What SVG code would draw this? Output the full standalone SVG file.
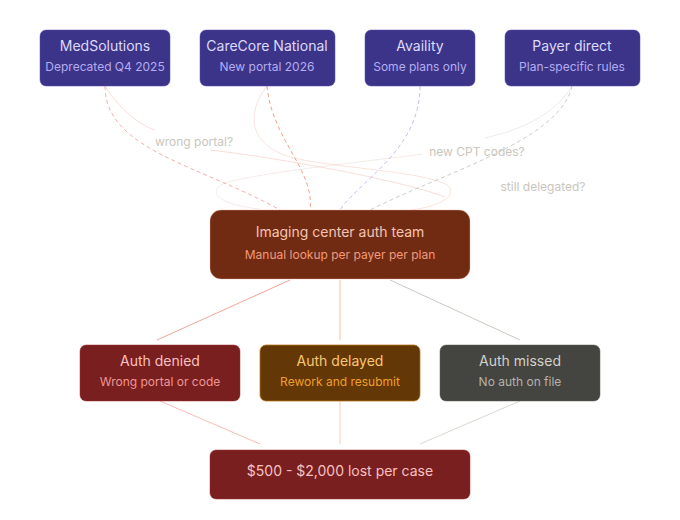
<svg xmlns="http://www.w3.org/2000/svg" width="680" height="520" viewBox="0 0 680 520">
<style>
text{font-family:Inter,"Noto Sans","Liberation Sans",sans-serif;text-anchor:middle;dominant-baseline:central}
.t{font-size:14px}
.s{font-size:12px}
.lbl{font-size:12px;fill:#c9c6bd}
.src rect{fill:#3c3489;stroke:#534ab7;stroke-width:0.5}
.src .t{fill:#dcd9fb}
.src .s{fill:#b3adef}
.e{fill:none;stroke-width:1}
.d{stroke-dasharray:4 3;stroke-opacity:0.85}
.f{stroke-opacity:0.4}
</style>
<rect width="680" height="520" fill="#ffffff"/>
<g id="connectors">
  <path class="e f" d="M105,86 C120,110 140,125 155,130" stroke="#f0a9a0"/>
  <path class="e f" d="M210,150 C280,158 400,180 445,197" stroke="#f0a9a0"/>
  <path class="e f" d="M267,86 C245,115 250,145 290,157 C330,168 440,172 450,188 C455,200 430,208 410,210" stroke="#f2b8a6"/>
  <path class="e f" d="M572,86 C555,115 520,130 485,138" stroke="#d6cecb"/>
  <path class="e f" d="M423,154 C380,160 260,172 225,183 C205,192 220,205 260,209" stroke="#e0ccc6"/>
  <path class="e d" d="M105,86 C105,150 200,165 280,210" stroke="#f0a39a"/>
  <path class="e d" d="M267,86 C272,140 315,170 310,210" stroke="#eb9275"/>
  <path class="e d" d="M420,86 C420,150 360,180 340,210" stroke="#b9b3f2"/>
  <path class="e d" d="M572,86 C560,140 450,170 370,210" stroke="#c6c3bb"/>
  <line class="e" x1="290" y1="280" x2="157" y2="340" stroke="#f2a497"/>
  <line class="e" x1="340" y1="280" x2="340" y2="340" stroke="#f5bfae"/>
  <line class="e" x1="390" y1="280" x2="520" y2="340" stroke="#c9c7bf"/>
  <line class="e" x1="160" y1="401" x2="260" y2="444" stroke="#f5bdb6"/>
  <line class="e" x1="340" y1="401" x2="340" y2="444" stroke="#f7cdbe"/>
  <line class="e" x1="520" y1="401" x2="420" y2="444" stroke="#d9d7d0"/>
  <text class="lbl" x="194" y="141">wrong portal?</text>
  <text class="lbl" x="477" y="151">new CPT codes?</text>
  <text class="lbl" x="543" y="186">still delegated?</text>
</g>
<g id="medsolutions" class="src">
  <rect x="40" y="30" width="130" height="56" rx="6"/>
  <text class="t" x="105" y="45">MedSolutions</text>
  <text class="s" x="105" y="66">Deprecated Q4 2025</text>
</g>
<g id="carecore" class="src">
  <rect x="200" y="30" width="135" height="56" rx="6"/>
  <text class="t" x="267" y="45">CareCore National</text>
  <text class="s" x="267" y="66">New portal 2026</text>
</g>
<g id="availity" class="src">
  <rect x="365" y="30" width="110" height="56" rx="6"/>
  <text class="t" x="420" y="45">Availity</text>
  <text class="s" x="420" y="66">Some plans only</text>
</g>
<g id="payer-direct" class="src">
  <rect x="505" y="30" width="135" height="56" rx="6"/>
  <text class="t" x="572" y="45">Payer direct</text>
  <text class="s" x="572" y="66">Plan-specific rules</text>
</g>
<g id="auth-team">
  <rect x="210" y="210" width="260" height="69" rx="11" fill="#712b13" stroke="#f0b2a0" stroke-opacity="0.5" stroke-width="0.75"/>
  <text class="t" x="340" y="231" fill="#f5c4b3">Imaging center auth team</text>
  <text class="s" x="340" y="254" fill="#f0997b">Manual lookup per payer per plan</text>
</g>
<g id="auth-denied">
  <rect x="80" y="345" width="160" height="56" rx="6" fill="#791f1f" stroke="#a32d2d" stroke-width="0.5"/>
  <text class="t" x="160" y="360" fill="#f7c1c1">Auth denied</text>
  <text class="s" x="160" y="381" fill="#f09595">Wrong portal or code</text>
</g>
<g id="auth-delayed">
  <rect x="260" y="345" width="160" height="56" rx="6" fill="#633806" stroke="#ba7517" stroke-width="0.75"/>
  <text class="t" x="340" y="360" fill="#fac775">Auth delayed</text>
  <text class="s" x="340" y="381" fill="#ef9f27">Rework and resubmit</text>
</g>
<g id="auth-missed">
  <rect x="440" y="345" width="160" height="56" rx="6" fill="#444441" stroke="#5f5e5a" stroke-width="0.5"/>
  <text class="t" x="520" y="360" fill="#d3d1c7">Auth missed</text>
  <text class="s" x="520" y="381" fill="#b4b2a9">No auth on file</text>
</g>
<g id="loss">
  <rect x="210" y="450" width="260" height="49" rx="6" fill="#791f1f" stroke="#a32d2d" stroke-width="0.5"/>
  <text class="t" x="340" y="470" fill="#f7c1c1">$500 - $2,000 lost per case</text>
</g>
</svg>
